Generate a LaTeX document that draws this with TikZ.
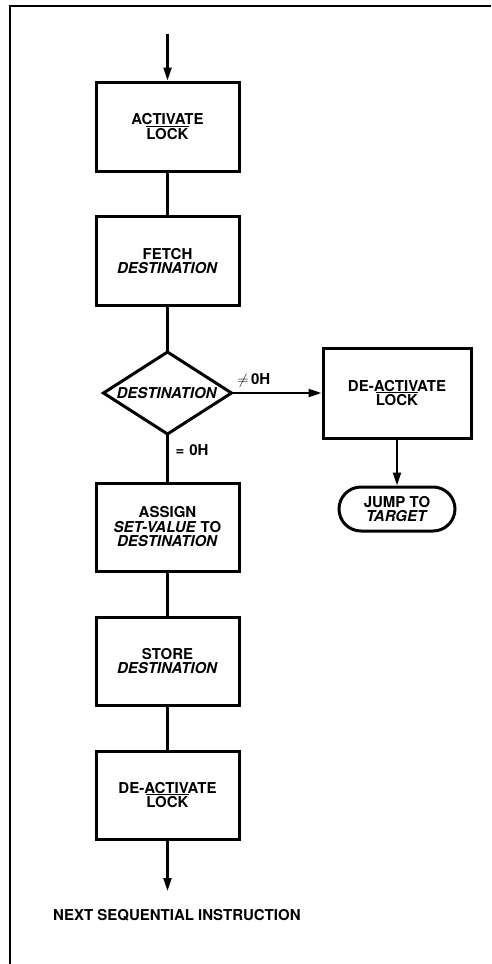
\documentclass[tikz,border=0pt]{standalone}
\usepackage{fontspec}
\setmainfont{TeX Gyre Heros}
\usetikzlibrary{arrows.meta}
\newcommand\ovl[1]{\leavevmode\setbox0\hbox{#1}\rlap{\rule[\dimexpr\ht0+1.7pt\relax]{\wd0}{0.9pt}}\box0}
\begin{document}
\begin{tikzpicture}[x=1pt,y=-1pt,
  txt/.style={font=\bfseries\fontsize{15}{14.5}\selectfont, align=center, inner sep=0pt},
  box/.style={txt, draw, line width=3pt, minimum width=143pt, minimum height=89pt},
  term/.style={txt, draw, line width=3pt, minimum width=116pt, minimum height=44pt, rounded corners=22pt},
  conn/.style={line width=2.2pt},
  arr/.style={conn, -{Triangle[length=13pt,width=8pt]}},
  frame/.style={line width=2.4pt}]
\useasboundingbox (0,0) rectangle (491,964);
% frame
\coordinate (fTR) at (491,6);
\coordinate (fTL) at (10,6);
\coordinate (fBL) at (10,964);
\draw[frame] (fTR) -- (fTL) -- (fBL);
% nodes
\coordinate (start) at (167.5,34);
\node[box] (b1) at (167.5,126.5) {ACTIVATE\\\ovl{LOCK}};
\node[box] (b2) at (167.5,261) {FETCH\\\textit{DESTINATION}};
\coordinate (dT) at (167.5,352);
\coordinate (dB) at (167.5,434);
\coordinate (dL) at (103.5,393);
\coordinate (dR) at (231.5,393);
\node[txt] (dtext) at (167,393) {\textit{DESTINATION}};
\draw[line width=3pt, line join=miter] (dT) -- (dR) -- (dB) -- (dL) -- cycle;
\node[box, minimum width=148pt, minimum height=90pt] (br) at (397,393) {DE-ACTIVATE\\\ovl{LOCK}};
\node[term] (jt) at (397,509) {JUMP TO\\\textit{TARGET}};
\node[box, minimum height=88pt] (b3) at (167.5,527) {ASSIGN\\\textit{SET-VALUE} TO\\\textit{DESTINATION}};
\node[box, minimum height=88pt] (b4) at (167.5,661) {STORE\\\textit{DESTINATION}};
\node[box, minimum height=88pt] (b5) at (167.5,795) {DE-ACTIVATE\\\ovl{LOCK}};
\node[txt, anchor=west] (next) at (53,915) {NEXT SEQUENTIAL INSTRUCTION};
\coordinate (endp) at (167.5,891);
% connectors
\draw[arr] (start) -- (b1.north);
\draw[conn] (b1) -- (b2);
\draw[conn] (b2.south) -- (dT);
\draw[arr] (dR) -- (br.west) node[txt, pos=0.25, above=5pt] (ne) {$\neq$\,0H};
\draw[conn] (dB) -- (b3.north) node[txt, pos=0.33, right=7pt] (eq) {=\,\,0H};
\draw[arr] (br.south) -- (jt.north);
\draw[conn] (b3) -- (b4);
\draw[conn] (b4) -- (b5);
\draw[arr] (b5.south) -- (endp);
\end{tikzpicture}
\end{document}
